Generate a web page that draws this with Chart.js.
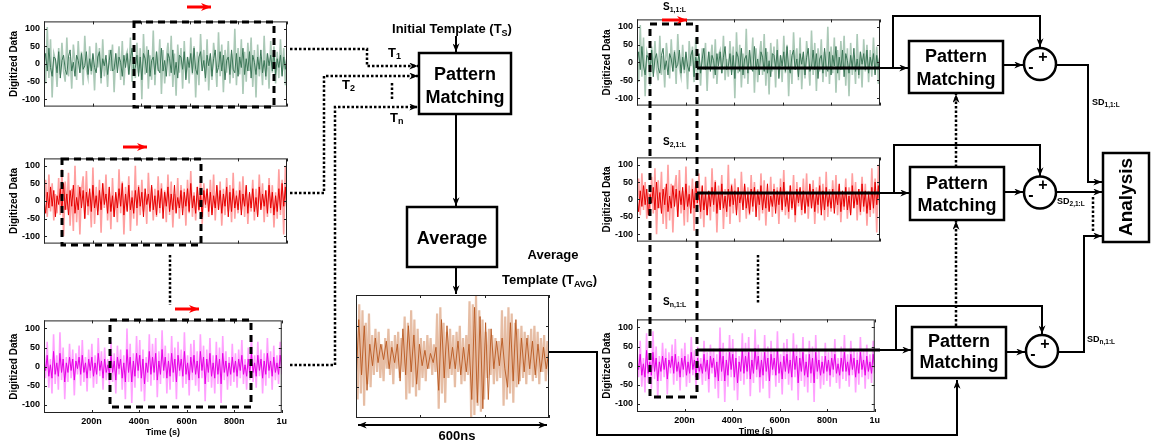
<!DOCTYPE html>
<html>
<head>
<meta charset="utf-8">
<script src="https://cdn.jsdelivr.net/npm/chart.js@4.4.1/dist/chart.umd.min.js"></script>
<style>
html, body { margin: 0; padding: 0; background: #fff; }
#stage { position: relative; width: 1151px; height: 441px; overflow: hidden; }
#stage canvas { position: absolute; z-index: 1; }
#diagram { position: absolute; left: 0; top: 0; z-index: 2; }
</style>
</head>
<body>
<div id="stage">
<svg id="diagram" width="1151" height="441" font-family="'Liberation Sans', Arial, sans-serif" font-weight="bold">
  <defs>
    <marker id="ah" viewBox="0 0 10 8" refX="10" refY="4" markerWidth="9" markerHeight="7" markerUnits="userSpaceOnUse" orient="auto-start-reverse">
      <path d="M0,0 L10,4 L0,8 L3,4 z" fill="#000"/>
    </marker>
    <marker id="ahr" viewBox="0 0 10 8" refX="10" refY="4" markerWidth="10" markerHeight="8" markerUnits="userSpaceOnUse" orient="auto">
      <path d="M0,0 L10,4 L0,8 L3,4 z" fill="#f00"/>
    </marker>
  </defs>

  <!-- sliding windows on the traces -->
  <g fill="none" stroke="#000" stroke-width="3" stroke-dasharray="7,5">
    <rect x="134" y="22" width="140" height="85"/>
    <rect x="62" y="159" width="139" height="86"/>
    <rect x="110" y="320" width="141" height="87"/>
    <rect x="650" y="24" width="47" height="373"/>
  </g>
  <g stroke="#f00" stroke-width="3">
    <line x1="187" y1="7" x2="211" y2="7" marker-end="url(#ahr)"/>
    <line x1="123" y1="147" x2="147" y2="147" marker-end="url(#ahr)"/>
    <line x1="175" y1="309" x2="199" y2="309" marker-end="url(#ahr)"/>
    <line x1="662" y1="20" x2="687" y2="20" marker-end="url(#ahr)"/>
  </g>

  <!-- dotted template paths -->
  <g fill="none" stroke="#000" stroke-width="2.5" stroke-dasharray="2.5,2">
    <path d="M290,49 H367 V66 H418" marker-end="url(#ah)"/>
    <path d="M290,193 H324 V76 H418" marker-end="url(#ah)"/>
    <path d="M290,365 H335 V107 H418" marker-end="url(#ah)"/>
    <path d="M392,83 V100"/>
    <path d="M170,255 V305"/>
    <path d="M758,255 V303"/>
    <path d="M956,326 V221" marker-end="url(#ah)"/>
    <path d="M956,167 V94" marker-end="url(#ah)"/>
    <path d="M1093,197 V232"/>
  </g>

  <!-- solid flow -->
  <g fill="none" stroke="#000" stroke-width="2">
    <path d="M456,36 V52" marker-end="url(#ah)"/>
    <path d="M456,114 V206" marker-end="url(#ah)"/>
    <path d="M456,267 V294" marker-end="url(#ah)"/>
    <path d="M549,352 H597 V435 H957 V380" marker-end="url(#ah)"/>
    <path d="M358,425 H547" marker-start="url(#ah)" marker-end="url(#ah)"/>

    <path d="M880,68 H908" marker-end="url(#ah)"/>
    <path d="M880,193 H909" marker-end="url(#ah)"/>
    <path d="M880,350 H911" marker-end="url(#ah)"/>

    <path d="M893,68 V16 H1040 V47" marker-end="url(#ah)"/>
    <path d="M894,193 V145 H1040 V176" marker-end="url(#ah)"/>
    <path d="M896,350 V306 H1042 V334" marker-end="url(#ah)"/>

    <path d="M1003,65 H1023" marker-end="url(#ah)"/>
    <path d="M1004,192 H1023" marker-end="url(#ah)"/>
    <path d="M1006,352 H1025" marker-end="url(#ah)"/>

    <path d="M1056,65 H1088 V182 H1102" marker-end="url(#ah)"/>
    <path d="M1056,192 H1102" marker-end="url(#ah)"/>
    <path d="M1058,352 H1084 V236 H1102" marker-end="url(#ah)"/>
  </g>
  <g stroke="#000" stroke-width="3">
    <line x1="697" y1="68" x2="880" y2="68"/>
    <line x1="697" y1="193" x2="880" y2="193"/>
    <line x1="697" y1="350" x2="880" y2="350"/>
  </g>

  <!-- blocks -->
  <g fill="#fff" stroke="#000" stroke-width="2.5">
    <rect x="419" y="53" width="92" height="61"/>
    <rect x="407" y="207" width="90" height="60"/>
    <rect x="909" y="41" width="94" height="52"/>
    <rect x="910" y="167" width="94" height="53"/>
    <rect x="912" y="327" width="94" height="51"/>
    <rect x="1103" y="153" width="46" height="89"/>
    <circle cx="1040" cy="64" r="16"/>
    <circle cx="1040" cy="192.5" r="16"/>
    <circle cx="1042" cy="351" r="16"/>
  </g>

  <g fill="#000" font-size="18" text-anchor="middle">
    <text x="465" y="80">Pattern</text>
    <text x="465" y="103">Matching</text>
    <text x="452" y="244">Average</text>
    <text x="956" y="62">Pattern</text>
    <text x="956" y="85">Matching</text>
    <text x="957" y="189">Pattern</text>
    <text x="957" y="211">Matching</text>
    <text x="959" y="347">Pattern</text>
    <text x="959" y="368">Matching</text>
  </g>
  <g fill="#000" font-size="16" text-anchor="middle">
    <text x="1043" y="62">+</text>
    <text x="1031" y="72">-</text>
    <text x="1043" y="190">+</text>
    <text x="1031" y="200">-</text>
    <text x="1045" y="349">+</text>
    <text x="1033" y="359">-</text>
  </g>
  <text transform="translate(1132,197) rotate(-90)" text-anchor="middle" font-size="19" fill="#000">Analysis</text>

  <g fill="#000" font-size="13">
    <text x="452" y="33" text-anchor="middle">Initial Template (T<tspan font-size="9" dy="3">S</tspan><tspan dy="-3">)</tspan></text>
    <text x="388" y="57">T<tspan font-size="9" dy="2">1</tspan></text>
    <text x="342" y="89">T<tspan font-size="9" dy="2">2</tspan></text>
    <text x="390" y="122">T<tspan font-size="9" dy="2">n</tspan></text>
    <text x="553" y="259" text-anchor="middle">Average</text>
    <text x="502" y="284">Template (T<tspan font-size="9" dy="3">AVG</tspan><tspan dy="-3">)</tspan></text>
    <text x="457" y="440" text-anchor="middle">600ns</text>
  </g>
  <g fill="#000" font-size="10">
    <text x="663" y="10">S<tspan font-size="7" dy="2">1,1:L</tspan></text>
    <text x="663" y="145">S<tspan font-size="7" dy="2">2,1:L</tspan></text>
    <text x="663" y="305">S<tspan font-size="7" dy="2">n,1:L</tspan></text>
  </g>
  <g fill="#000" font-size="9">
    <text x="1092" y="105">SD<tspan font-size="6.5" dy="2">1,1:L</tspan></text>
    <text x="1057" y="204">SD<tspan font-size="6.5" dy="2">2,1:L</tspan></text>
    <text x="1087" y="342">SD<tspan font-size="6.5" dy="2">n,1:L</tspan></text>
  </g>
</svg>
</div>

<script>
var greenLight = [
  15,-55,105,-40,70,-95,30,10,-65,45,-30,60,-20,-50,75,-35,20,-70,55,5,-45,65,-25,35,-60,80,-15,-40,50,-30,
  25,-75,60,-10,45,-55,70,-35,15,-65,40,-20,55,-80,30,-5,50,-45,65,-60,20,35,-30,75,-50,10,-40,60,-25,45,
  -100,85,-30,50,-70,25,-45,95,-60,35,-20,70,-85,40,-55,15,60,-35,80,-65,30,-90,55,-25,45,-70,65,-40,20,-55,
  75,-30,50,-95,35,-60,85,-20,40,-50,70,-75,25,-45,60,10,-65,90,-35,55,-80,40,-25,65,-55,30,-40,100,-60,45,
  -30,70,-85,35,-50,60,-20,75,-65,40,-95,55,-35,20,-60,80,-45,30,-70,65,-25,50,-55,35,-40,70,-30,45,-60,25
];
var greenDark = [
  -5,30,-20,45,-10,-35,20,15,-25,35,-40,10,25,-15,-30,20,40,-20,5,-35,25,10,-25,30,-15,-5,35,-30,15,-20,
  30,-10,-25,20,35,-40,15,-5,25,-30,10,40,-20,-15,30,-25,20,5,-35,25,-10,30,-30,15,45,-20,-10,25,-35,20,
  -45,30,15,-25,40,-35,10,20,-30,35,-15,-25,45,-20,10,-35,30,15,-25,40,-30,5,-40,25,20,-15,35,-45,20,-10,
  30,-25,45,-15,-30,20,35,-20,10,-40,25,-5,30,-35,15,40,-25,-10,35,-20,25,-45,10,20,-30,40,-15,-25,30,-35,
  20,-10,45,-30,15,-20,35,-40,25,5,-30,20,-15,40,-25,10,-35,30,-5,25,-20,35,-30,15,-10,25,-35,20,-15,30
];
var redLight = [
  -20,60,-45,75,-30,50,-55,20,-35,65,-40,90,-100,55,-25,80,-70,35,-85,100,-60,45,-95,30,70,-50,85,-40,25,-75,
  95,-65,40,-30,60,-90,50,-20,75,-55,35,-80,65,-45,20,-60,90,-35,55,-95,40,-25,70,-85,30,-50,100,-70,45,-40,
  60,-30,25,-65,80,-20,40,-55,35,-45,70,-35,50,-25,30,-60,75,-40,55,-75,20,-30,65,-50,45,-20,35,-70,60,-35,
  85,-45,25,-55,40,-30,70,-65,50,-20,30,-45,60,-35,75,-55,40,-25,55,-70,35,-40,65,-30,45,-60,80,-50,30,-35,
  55,-25,70,-45,40,-65,20,-30,60,-55,35,-40,75,-20,50,-60,30,-45,65,-35,45,-75,25,-50,90,-40,60,-95,100,-20
];
var redDark = [
  10,-35,25,-20,40,-15,30,-45,15,-10,35,-30,50,-25,20,-40,30,-15,45,-35,10,-25,40,-20,30,-50,25,-15,35,-30,
  45,-20,15,-40,30,-25,50,-10,20,-35,40,-30,15,-45,25,-20,35,-15,50,-40,20,-30,45,-25,10,-35,30,-20,40,-15,
  25,-45,35,-10,20,-30,45,-25,15,-40,30,-20,35,-50,25,-15,40,-30,20,-25,45,-35,10,-20,30,-40,25,-15,35,-30,
  50,-20,15,-35,40,-25,20,-45,30,-10,35,-30,25,-40,15,-20,45,-25,30,-35,20,-15,40,-45,25,-30,35,-20,15,-25,
  30,-40,20,-15,45,-35,25,-20,35,-30,10,-45,40,-25,20,-15,30,-35,45,-20,25,-40,15,-30,35,-25,50,-15,40,-45
];
var magentaLight = [
  40,-30,65,-55,20,-70,85,-45,30,-60,90,-35,50,-85,25,-40,60,-30,45,-75,35,-20,55,-50,70,-40,25,-65,45,-30,
  60,-55,30,-45,75,-25,40,-60,50,-35,20,-50,65,-40,35,-70,55,-20,45,-60,30,-85,100,-40,60,-95,35,-55,80,-30,
  70,-65,45,-90,25,-40,85,-50,60,-35,75,-80,40,-45,95,-30,55,-70,35,-60,80,-40,50,-85,65,-25,45,-55,90,-45,
  30,-75,60,-35,70,-50,40,-65,85,-30,55,-90,45,-40,75,-55,30,-70,65,-45,50,-95,80,-35,40,-60,25,-50,60,-40,
  35,-55,45,-30,70,-45,20,-60,50,-35,80,-40,30,-55,65,-25,45,-70,35,-50,75,-30,40,-60,55,-35,30,-45,65,-20
];
var magentaDark = [
  15,-10,30,-25,5,-30,40,-20,10,-25,35,-15,20,-40,10,-15,25,-10,20,-35,15,-5,25,-20,30,-15,10,-30,20,-10,
  25,-25,10,-20,35,-10,15,-30,20,-15,5,-20,30,-15,15,-35,25,-5,20,-30,10,-40,45,-15,25,-40,15,-25,35,-10,
  30,-30,20,-45,10,-15,40,-20,25,-15,35,-35,15,-20,45,-10,25,-30,15,-25,35,-15,20,-40,30,-10,20,-25,40,-20,
  10,-35,25,-15,30,-20,15,-30,40,-10,25,-45,20,-15,35,-25,10,-30,30,-20,20,-45,35,-15,15,-25,10,-20,25,-15,
  15,-25,20,-10,30,-20,5,-25,20,-15,35,-15,10,-25,30,-10,20,-30,15,-20,35,-10,15,-25,25,-15,10,-20,30,-5
];
var brownLight = [
  30,-70,85,-60,75,-80,55,-45,70,-50,
  35,-30,45,-25,40,-35,20,-40,30,-20,
  45,-30,25,-45,35,-20,40,-35,30,-25,
  65,-70,55,-60,75,-50,60,-65,45,-55,
  30,-35,25,-40,35,-20,30,-30,20,-25,
  70,-85,80,-60,55,-75,40,-35,45,-30,
  35,-50,40,-25,50,-45,30,-40,35,-30,
  90,-100,85,-95,100,-80,75,-90,60,-70,
  40,-35,45,-30,35,-45,30,-40,25,-35,
  75,-80,65,-70,80,-60,70,-75,55,-50,
  45,-40,50,-35,40,-45,35,-30,45,-40,
  50,-35,40,-45,30,-25,35,-40,25,-30
];
var brownDark = [
  -45,60,-30,50,-55,20,-15,30,
  -10,20,-5,25,-20,15,-10,20,
  -40,45,-30,50,-25,35,-45,20,
  -15,10,-20,5,-10,15,
  -55,60,-35,50,-20,15,
  -20,25,-30,15,-25,20,
  -70,80,-75,65,-85,55,-70,45,
  -20,25,-15,30,-20,
  -50,55,-40,60,-45,30,
  -25,30,-20,25,-30,20,-25,15,-20,10
];

var timeTicks = [0, 200, 400, 600, 800, 1000];   // ns
var levelTicks = [-100, -50, 0, 50, 100];
var avgTimeTicks = [0, 200, 400, 600];
var avgLevelTicks = [-50, 0, 50];

Chart.defaults.font.family = "'Liberation Sans', Arial, Helvetica, sans-serif";
Chart.defaults.font.weight = "bold";
Chart.defaults.color = "#000";

// matlab-ish box with inward ticks on all four sides
var boxTicks = {
    id: "boxTicks",
    afterDatasetsDraw: function (chart, args, o) {
        var a = chart.chartArea, ctx = chart.ctx;
        ctx.save();
        ctx.strokeStyle = "#222";
        ctx.lineWidth = 1;
        ctx.strokeRect(a.left + 0.5, a.top + 0.5, a.right - a.left - 1, a.bottom - a.top - 1);
        ctx.beginPath();
        o.x.forEach(function (v) {
            var px = Math.round(chart.scales.x.getPixelForValue(v)) + 0.5;
            ctx.moveTo(px, a.top); ctx.lineTo(px, a.top + 3);
            ctx.moveTo(px, a.bottom); ctx.lineTo(px, a.bottom - 3);
        });
        o.y.forEach(function (v) {
            var py = Math.round(chart.scales.y.getPixelForValue(v)) + 0.5;
            ctx.moveTo(a.left, py); ctx.lineTo(a.left + 3, py);
            ctx.moveTo(a.right, py); ctx.lineTo(a.right - 3, py);
        });
        ctx.stroke();
        ctx.restore();
    },
};

var stage = document.getElementById("stage");

function trace(values, color, span, width) {
    var step = span / (values.length - 1);
    return {
        data: values.map(function (y, i) { return { x: i * step, y: y }; }),
        borderColor: color,
        borderWidth: width,
        pointRadius: 0,
        tension: 0,
    };
}

function signalChart(plot, datasets, opt) {
    var axisW = opt.yLabels ? 44 : 0;
    var axisH = opt.xLabels ? 25 : 0;
    var padT = 3, padR = 3, padB = opt.xLabels ? 0 : 3;
    var cv = document.createElement("canvas");
    cv.width = plot.r - plot.l + axisW + padR;
    cv.height = plot.b - plot.t + padT + axisH + padB;
    cv.style.left = plot.l - axisW + "px";
    cv.style.top = plot.t - padT + "px";
    stage.insertBefore(cv, stage.firstChild);

    return new Chart(cv.getContext("2d"), {
        type: "line",
        data: { datasets: datasets },
        options: {
            responsive: false,
            animation: false,
            events: [],
            layout: { padding: { top: padT, right: padR, left: 0, bottom: padB } },
            plugins: {
                legend: { display: false },
                tooltip: { enabled: false },
                boxTicks: { x: opt.xTicks, y: opt.yTicks },
            },
            scales: {
                x: {
                    type: "linear",
                    min: 0,
                    max: opt.span,
                    display: opt.xLabels,
                    grid: { display: false, drawTicks: false },
                    border: { display: false },
                    afterBuildTicks: function (s) { s.ticks = opt.xTicks.map(function (v) { return { value: v }; }); },
                    afterFit: function (s) { s.height = axisH; },
                    ticks: {
                        padding: 3,
                        maxRotation: 0,
                        autoSkip: false,
                        font: { size: 9 },
                        callback: function (v) { return v === 0 ? "" : v === 1000 ? "1u" : v + "n"; },
                    },
                    title: { display: true, text: "Time (s)", font: { size: 9 }, padding: { top: 0, bottom: 0 } },
                },
                y: {
                    min: -opt.range,
                    max: opt.range,
                    display: opt.yLabels,
                    grid: { display: false, drawTicks: false },
                    border: { display: false },
                    afterBuildTicks: function (s) { s.ticks = opt.yTicks.map(function (v) { return { value: v }; }); },
                    afterFit: function (s) { s.width = axisW; },
                    ticks: { padding: 4, font: { size: 9 } },
                    title: { display: true, text: "Digitized Data", font: { size: 10 }, padding: { top: 8, bottom: 0 } },
                },
            },
        },
        plugins: [boxTicks],
    });
}

var green = function () { return [trace(greenDark, "#3c7758", 1000, 1), trace(greenLight, "#abc9b7", 1000, 1.6)]; };
var red = function () { return [trace(redDark, "#e60000", 1000, 1), trace(redLight, "#ff9f9f", 1000, 1.6)]; };
var magenta = function () { return [trace(magentaDark, "#e400e4", 1000, 1), trace(magentaLight, "#ffa0ff", 1000, 1.6)]; };

var full = { span: 1000, range: 121, xTicks: timeTicks, yTicks: levelTicks, yLabels: true };

signalChart({ l: 44, t: 15, r: 287, b: 113 }, green(), Object.assign({ xLabels: false }, full));
signalChart({ l: 44, t: 152, r: 287, b: 250 }, red(), Object.assign({ xLabels: false }, full));
signalChart({ l: 44, t: 314, r: 287, b: 413 }, magenta(), Object.assign({ xLabels: true }, full));

signalChart({ l: 637, t: 13, r: 880, b: 112 }, green(), Object.assign({ xLabels: false }, full));
signalChart({ l: 637, t: 151, r: 880, b: 248 }, red(), Object.assign({ xLabels: false }, full));
signalChart({ l: 637, t: 313, r: 880, b: 412 }, magenta(), Object.assign({ xLabels: true }, full));

// averaged template, 600 ns window
signalChart({ l: 356, t: 295, r: 549, b: 418 },
    [trace(brownDark, "#b9581f", 600, 0.9), trace(brownLight, "#e6bda4", 600, 2.2)],
    { span: 600, range: 100, xTicks: avgTimeTicks, yTicks: avgLevelTicks, xLabels: false, yLabels: false });
</script>
</body>
</html>
